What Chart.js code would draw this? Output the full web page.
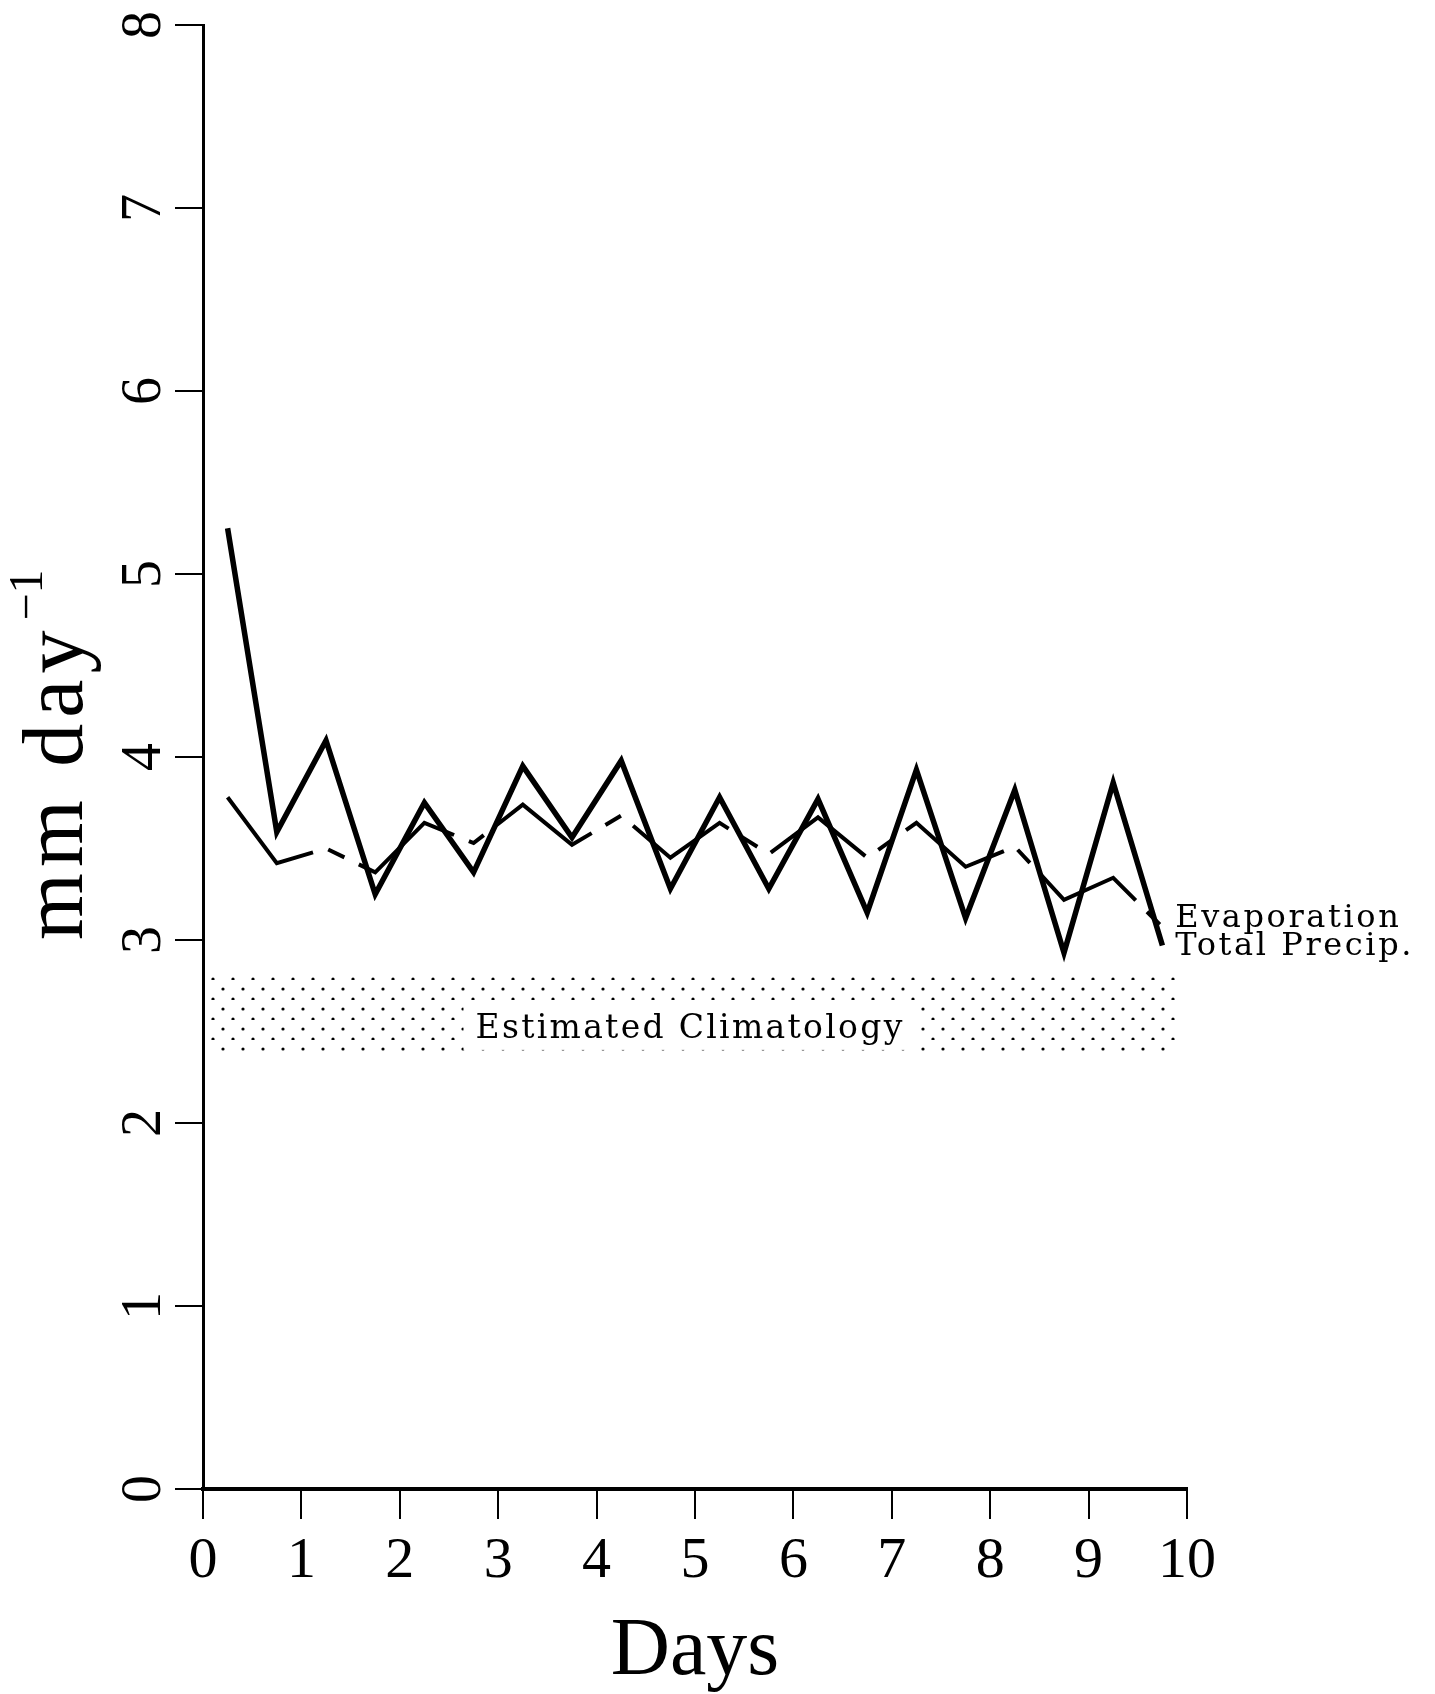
<!DOCTYPE html>
<html>
<head>
<meta charset="utf-8">
<script src="https://cdn.jsdelivr.net/npm/chart.js@4.4.1/dist/chart.umd.min.js"></script>
<style>
html, body { margin: 0; padding: 0; background: #fff; }
#wrap { width: 1435px; height: 1694px; }
</style>
</head>
<body>
<div id="wrap"><canvas id="chart" width="1435" height="1694"></canvas></div>
<script>
// half-day samples
var days = [0.25, 0.75, 1.25, 1.75, 2.25, 2.75, 3.25, 3.75, 4.25, 4.75,
	5.25, 5.75, 6.25, 6.75, 7.25, 7.75, 8.25, 8.75, 9.25, 9.75];
var totalPrecip = [5.25, 3.59, 4.09, 3.25, 3.75, 3.37, 3.95, 3.56, 3.98, 3.28,
	3.78, 3.28, 3.77, 3.15, 3.93, 3.12, 3.82, 2.93, 3.86, 2.97];
var evaporation = [3.78, 3.42, 3.50, 3.37, 3.64, 3.53, 3.74, 3.52, 3.68, 3.45,
	3.64, 3.47, 3.67, 3.45, 3.64, 3.40, 3.51, 3.22, 3.34, 3.07];
// estimated climatology range
var climDays = [0, 9.9];
var climLow = 2.37;
var climHigh = 2.81;
var yTickLabels = ['0', '1', '2', '3', '4', '5', '6', '7', '8'];

function toPoints(xs, ys) {
	return xs.map(function (d, i) { return { x: d, y: ys[i] }; });
}

// stipple pattern for the climatology band
function makeDots() {
	var tile = document.createElement('canvas');
	tile.width = 20;
	tile.height = 20;
	var t = tile.getContext('2d');
	t.fillStyle = '#000';
	t.beginPath(); t.arc(13, 19, 1.6, 0, Math.PI * 2); t.fill();
	t.beginPath(); t.arc(3, 9, 1.6, 0, Math.PI * 2); t.fill();
	return document.getElementById('chart').getContext('2d').createPattern(tile, 'repeat');
}

var annotate = {
	id: 'annotate',
	afterDatasetsDraw: function (chart) {
		var ctx = chart.ctx, xs = chart.scales.x, ys = chart.scales.y;
		ctx.save();
		ctx.font = '33px "DejaVu Serif"';
		ctx.letterSpacing = '2.3px';
		var label = 'Estimated Climatology';
		var w = ctx.measureText(label).width;
		var cx = xs.getPixelForValue(4.95), by = ys.getPixelForValue(2.465);
		ctx.fillStyle = '#fff';
		ctx.fillRect(cx - w / 2 - 12, by - 35, w + 24, 47);
		ctx.fillStyle = '#000';
		ctx.textAlign = 'center';
		ctx.textBaseline = 'alphabetic';
		ctx.fillText(label, cx, by);
		ctx.restore();
	},
	afterDraw: function (chart) {
		var ctx = chart.ctx, xs = chart.scales.x, ys = chart.scales.y;
		ctx.save();
		ctx.fillStyle = '#000';

		// rotated y tick labels
		ctx.font = '56px "Liberation Serif"';
		ctx.textAlign = 'center';
		ctx.textBaseline = 'alphabetic';
		ys.ticks.forEach(function (t, i) {
			ctx.save();
			ctx.translate(160, ys.getPixelForValue(t.value));
			ctx.rotate(-Math.PI / 2);
			ctx.fillText(yTickLabels[i], 0, 0);
			ctx.restore();
		});

		// y title: mm day^-1
		ctx.save();
		ctx.translate(82, ys.getPixelForValue(3.0));
		ctx.rotate(-Math.PI / 2);
		ctx.textAlign = 'left';
		ctx.font = '86px "Liberation Serif"';
		ctx.letterSpacing = '6px';
		ctx.fillText('mm day', 0, 0);
		var tw = ctx.measureText('mm day').width;
		ctx.letterSpacing = '0px';
		ctx.font = '48px "Liberation Serif"';
		ctx.fillText('\u22121', tw + 4, -40);
		ctx.restore();

		// line labels at the right end
		ctx.font = '32px "DejaVu Serif"';
		ctx.letterSpacing = '2.6px';
		ctx.textAlign = 'left';
		ctx.fillText('Evaporation', xs.getPixelForValue(9.88), ys.getPixelForValue(3.07));
		ctx.fillText('Total Precip.', xs.getPixelForValue(9.88), ys.getPixelForValue(2.92));
		ctx.restore();
	}
};

function loadChart() {
	var el = document.getElementById('chart');
	var chart = new Chart(el, {
		type: 'line',
		data: {
			datasets: [
			{
				label: 'Total Precip.',
				data: toPoints(days, totalPrecip),
				borderColor: '#000',
				borderWidth: 5.5,
				borderJoinStyle: 'miter',
				pointRadius: 0,
				fill: false,
				order: 1
			},
			{
				label: 'Evaporation',
				data: toPoints(days, evaporation),
				borderColor: '#000',
				borderWidth: 4,
				borderDash: [120, 16, 18, 16],
				borderJoinStyle: 'miter',
				pointRadius: 0,
				fill: false,
				order: 2
			},
			{
				label: 'Estimated Climatology',
				data: toPoints(climDays, [climHigh, climHigh]),
				borderWidth: 0,
				pointRadius: 0,
				backgroundColor: makeDots(),
				fill: { value: climLow },
				order: 3
			}
			]
		},
		options: {
			responsive: false,
			animation: false,
			layout: { padding: { left: 0, top: 25, right: 248, bottom: 0 } },
			plugins: {
				legend: { display: false },
				tooltip: { enabled: false }
			},
			scales: {
				x: {
					type: 'linear',
					min: 0,
					max: 10,
					afterFit: function (s) { s.height = 205; },
					ticks: {
						stepSize: 1,
						color: '#000',
						padding: 8,
						maxRotation: 0,
						font: { family: 'Liberation Serif', size: 58 }
					},
					grid: { drawOnChartArea: false, drawTicks: true, tickLength: 30, lineWidth: 2, color: '#000' },
					border: { display: true, color: '#000', width: 4 },
					title: {
						display: true,
						text: 'Days',
						color: '#000',
						padding: { top: 0, bottom: -8 },
						font: { family: 'Liberation Serif', size: 82 }
					}
				},
				y: {
					type: 'linear',
					min: 0,
					max: 8,
					afterFit: function (s) { s.width = 203; },
					ticks: {
						stepSize: 1,
						color: 'rgba(0,0,0,0)',
						font: { family: 'Liberation Serif', size: 16 }
					},
					grid: { drawOnChartArea: false, drawTicks: true, tickLength: 28, lineWidth: 2, color: '#000' },
					border: { display: true, color: '#000', width: 3 }
				}
			}
		},
		plugins: [annotate]
	});
	window.chart = chart;
}
loadChart();
</script>
</body>
</html>
